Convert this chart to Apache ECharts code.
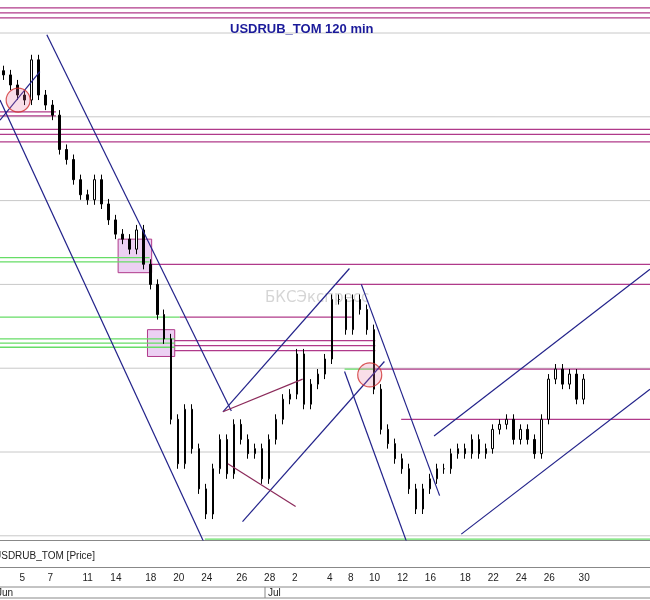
<!DOCTYPE html>
<html>
<head>
<meta charset="utf-8">
<script src="https://cdn.jsdelivr.net/npm/echarts@6/dist/echarts.min.js"></script>
<style>html,body{margin:0;padding:0;background:#fff}#main{width:650px;height:600px}</style>
</head>
<body>
<div id="main"></div>
<script>
// цены закрытия 120-минутных баров
var closes = [67.50,67.38,67.26,67.20,67.68,67.26,67.14,67.02,66.61,66.49,66.25,66.07,66.01,66.25,65.96,65.77,65.60,65.54,65.42,65.65,65.24,65.00,64.64,64.35,63.39,62.86,63.51,63.04,62.56,62.26,62.80,63.15,62.74,63.33,63.15,62.98,63.04,62.68,63.15,63.39,63.63,63.69,64.17,63.57,63.81,63.93,64.11,64.82,64.82,64.46,64.82,64.70,64.46,63.75,63.27,63.10,62.92,62.80,62.56,62.32,62.56,62.68,62.80,62.80,62.98,63.04,62.98,63.15,62.98,63.04,63.27,63.33,63.39,63.15,63.27,63.15,62.98,63.39,63.87,63.99,63.81,63.93,63.63,63.87];
var nCats = 93;
// подписи дат на оси
var tickIdx  = [2, 6, 11, 15, 20, 24, 28, 33, 37, 41, 46, 49, 52, 56, 60, 65, 69, 73, 77, 82];
var tickText = ['5','7','11','14','18','20','24','26','28','2','4','8','10','12','16','18','22','24','26','30'];
var gridPrices = [62, 63, 64, 65, 66, 67, 68];
// горизонтальные уровни: [от, до, цена, цвет]
var levels = [
    [0, 93, 68.30, 'm'], [0, 93, 68.24, 'm'], [0, 93, 68.18, 'm'],
    [0, 8, 67.06, 'm'], [0, 8, 67.01, 'm'],
    [0, 93, 66.85, 'm'], [0, 93, 66.79, 'm'], [0, 93, 66.70, 'm'],
    [21.4, 93, 65.24, 'm'], [0, 21.4, 65.32, 'g'], [0, 21.4, 65.27, 'g'],
    [48, 93, 65.00, 'm'],
    [25.7, 50.3, 64.61, 'm'], [0, 25.7, 64.61, 'g'],
    [0, 25, 64.35, 'g'], [0, 25, 64.30, 'g'], [0, 25, 64.25, 'g'],
    [25, 53.7, 64.33, 'm'], [25, 53.7, 64.27, 'm'], [25, 53.7, 64.21, 'm'],
    [49.3, 53.6, 63.99, 'g'], [53.6, 93, 63.99, 'm'],
    [57.4, 93, 63.39, 'm'],
    [29.3, 93, 61.96, 'g']
];
// трендовые линии: [x1, p1, x2, p2, цвет]
var trends = [
    [0, 67.20, 29.3, 61.90, 'b'], [6.7, 67.98, 33.1, 63.49, 'b'],
    [0, 66.96, 5.7, 67.54, 'b'],
    [31.9, 63.48, 50, 65.19, 'b'], [34.7, 62.17, 55, 64.08, 'b'],
    [31.9, 63.48, 43.3, 63.87, 'r'], [32.6, 62.86, 42.3, 62.35, 'r'],
    [51.7, 65.00, 62.9, 62.48, 'b'], [49.3, 63.96, 58.3, 61.90, 'b'],
    [62.1, 63.19, 93, 65.18, 'b'], [66, 62.02, 93, 63.75, 'b']
];
var boxes = [[16.9, 65.54, 21.7, 65.14], [21.1, 64.46, 25, 64.14]];
var circles = [[2.6, 67.20], [52.9, 63.92]];

var colors = {m: '#b03a8a', g: '#66dd66', b: '#22228a', r: '#8b2a5a'};

var cats = [];
for (var i = 0; i < nCats; i++) cats.push('');
for (var i = 0; i < tickIdx.length; i++) cats[tickIdx[i]] = tickText[i];

var candles = [];
for (var i = 0; i < closes.length; i++) {
    var o = i > 0 ? closes[i - 1] : closes[0] + 0.05;
    var c = closes[i];
    candles.push([o, c, Math.min(o, c) - 0.06, Math.max(o, c) + 0.06]);
}

var series = [{
    type: 'candlestick', xAxisIndex: 0, yAxisIndex: 0, barWidth: 2, silent: true,
    itemStyle: {color: '#fff', color0: '#000', borderColor: '#000', borderColor0: '#000', borderWidth: 1},
    data: candles, z: 5
}];
gridPrices.forEach(function (p) {
    series.push({type: 'line', xAxisIndex: 1, symbol: 'none', silent: true, z: 1,
        lineStyle: {color: '#c8c8c8', width: 1}, data: [[0, p], [93, p]]});
});
levels.forEach(function (l) {
    series.push({type: 'line', xAxisIndex: 1, symbol: 'none', silent: true, z: 3,
        lineStyle: {color: colors[l[3]], width: 1.3}, data: [[l[0], l[2]], [l[1], l[2]]]});
});
trends.forEach(function (t) {
    series.push({type: 'line', xAxisIndex: 1, symbol: 'none', silent: true, z: 6,
        lineStyle: {color: colors[t[4]], width: 1.2}, data: [[t[0], t[1]], [t[2], t[3]]]});
});
series.push({type: 'line', xAxisIndex: 1, data: [], silent: true,
    markArea: {silent: true, itemStyle: {color: 'rgba(200,120,220,0.35)', borderColor: '#b03a8a', borderWidth: 1},
        data: boxes.map(function (b) { return [{coord: [b[0], b[1]]}, {coord: [b[2], b[3]]}]; })}});
series.push({type: 'scatter', xAxisIndex: 1, symbolSize: 24, silent: true, z: 7,
    itemStyle: {color: 'rgba(230,120,160,0.3)', borderColor: '#d03030', borderWidth: 1.2},
    data: circles});

var myChart = echarts.init(document.getElementById('main'));
var option = {
    animation: false,
    title: {text: 'USDRUB_TOM 120 min', left: 225, top: 18,
        textStyle: {color: '#1a1a9a', fontSize: 13, fontWeight: 'bold', fontFamily: 'Liberation Sans'}},
    grid: {left: 0, right: 0, top: 2, bottom: 60},
    xAxis: [
        {type: 'category', data: cats, gridIndex: 0,
            axisLine: {lineStyle: {color: '#888'}}, axisTick: {show: false}, axisLabel: {show: false}},
        {type: 'value', min: 0, max: 93, show: false},
        {type: 'category', data: cats, offset: 27, position: 'bottom',
            axisLine: {lineStyle: {color: '#888'}},
            axisTick: {length: 19, inside: false, lineStyle: {color: '#888'},
                interval: function (idx, v) { return v !== ''; }},
            axisLabel: {align: 'left', margin: 6, padding: [0, 0, 0, 2], fontSize: 10, color: '#222',
                fontFamily: 'Liberation Sans', interval: function (idx, v) { return v !== ''; }}}
    ],
    yAxis: [{type: 'value', min: 61.95, max: 68.37, show: false, splitLine: {show: false}}],
    graphic: [
        {type: 'text', left: 265, top: 291, silent: true, z: 0,
            style: {text: 'БКСЭкспресс', fill: 'rgba(150,150,150,0.4)', font: '15px "DejaVu Sans"'}},
        {type: 'text', left: -6, top: 551, silent: true,
            style: {text: 'USDRUB_TOM [Price]', fill: '#222', font: '10px "Liberation Sans"'}},
        {type: 'line', shape: {x1: 0, y1: 587, x2: 650, y2: 587}, style: {stroke: '#888'}},
        {type: 'line', shape: {x1: 0, y1: 598, x2: 650, y2: 598}, style: {stroke: '#888'}},
        {type: 'line', shape: {x1: 265, y1: 587, x2: 265, y2: 598}, style: {stroke: '#888'}},
        {type: 'text', left: -3, top: 588, style: {text: 'Jun', fill: '#222', font: '10px "Liberation Sans"'}},
        {type: 'text', left: 268, top: 588, style: {text: 'Jul', fill: '#222', font: '10px "Liberation Sans"'}}
    ],
    series: series
};
myChart.setOption(option, true);
</script>
</body>
</html>
